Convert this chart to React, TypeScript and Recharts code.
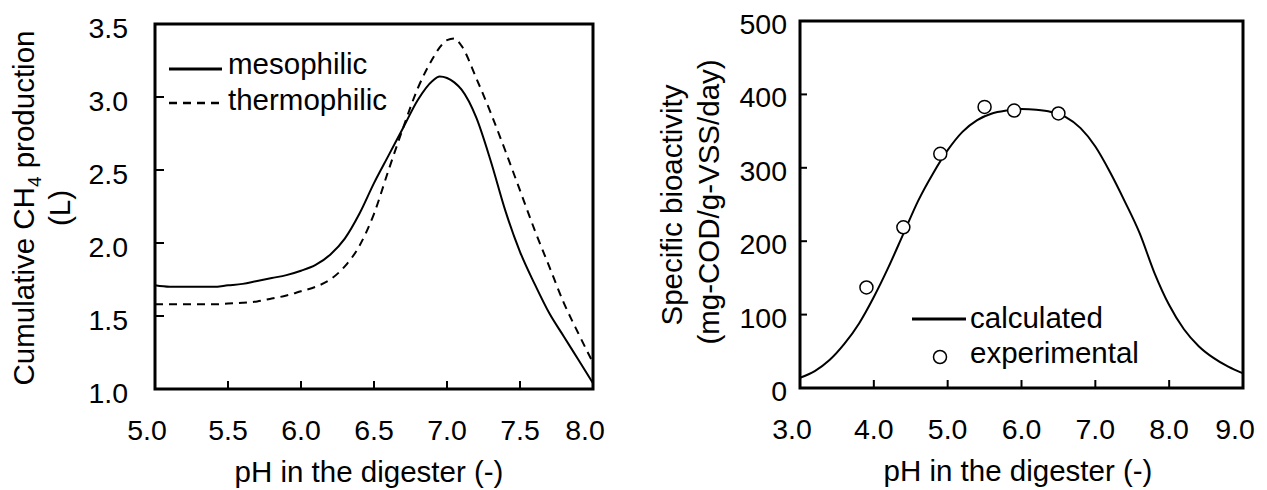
import React from 'react';
import {
    LineChart,
    ComposedChart,
    Line,
    Scatter,
    XAxis,
    YAxis,
    ReferenceArea,
    Legend,
} from 'recharts';

const FONT = '"Liberation Sans", Arial, Helvetica, sans-serif';

// left panel: cumulative CH4 production vs pH
const phLeft = [
    5.0, 5.1, 5.2, 5.3, 5.4, 5.5, 5.6, 5.7, 5.8, 5.9, 6.0, 6.1, 6.2, 6.3, 6.4, 6.5, 6.6,
    6.7, 6.8, 6.9, 6.95, 7.0, 7.05, 7.1, 7.2, 7.3, 7.4, 7.5, 7.6, 7.7, 7.8, 7.9, 8.0,
];
const mesophilic = [
    1.71, 1.7, 1.7, 1.7, 1.7, 1.71, 1.72, 1.74, 1.76, 1.78, 1.81, 1.85, 1.92, 2.03, 2.2, 2.41, 2.6,
    2.79, 2.98, 3.11, 3.14, 3.13, 3.1, 3.05, 2.86, 2.56, 2.22, 1.94, 1.72, 1.52, 1.36, 1.2, 1.04,
];
const thermophilic = [
    1.58, 1.58, 1.58, 1.58, 1.58, 1.585, 1.59, 1.6, 1.62, 1.64, 1.67, 1.7, 1.75, 1.84, 1.98, 2.2, 2.5,
    2.79, 3.06, 3.26, 3.34, 3.39, 3.4, 3.35, 3.13, 2.89, 2.63, 2.36, 2.09, 1.84, 1.59, 1.38, 1.18,
];
const leftXTicks = [5, 5.5, 6, 6.5, 7, 7.5, 8];
const leftYTicks = [1, 1.5, 2, 2.5, 3, 3.5];

// right panel: specific bioactivity vs pH
const phCalc = [
    3.0, 3.2, 3.4, 3.6, 3.8, 4.0, 4.2, 4.4, 4.6, 4.8, 5.0, 5.2, 5.4, 5.6, 5.8, 6.0,
    6.2, 6.4, 6.6, 6.8, 7.0, 7.2, 7.4, 7.6, 7.8, 8.0, 8.2, 8.4, 8.6, 8.8, 9.0,
];
const calculated = [
    14, 23, 38, 60, 88, 124, 165, 210, 255, 292, 324, 349, 365, 374, 378, 380,
    379, 376, 369, 354, 329, 294, 254, 211, 157, 113, 80, 57, 41, 29, 20,
];
const phExp = [3.9, 4.4, 4.9, 5.5, 5.9, 6.5];
const experimental = [137, 219, 319, 383, 378, 374];
const rightXTicks = [3, 4, 5, 6, 7, 8, 9];
const rightYTicks = [0, 100, 200, 300, 400, 500];

const leftData = phLeft.map((ph, i) => ({ ph, meso: mesophilic[i], thermo: thermophilic[i] }));
const calcData = phCalc.map((ph, i) => ({ ph, v: calculated[i] }));
const expData = phExp.map((ph, i) => ({ ph, v: experimental[i] }));

const txt = { fontFamily: FONT, fill: '#000' };

// bottom ticks point inward, end labels sit a bit to the left like the original
const bottomTick = (lo: number, hi: number, digits: number, len: number) => (p: any) => {
    const v = p.payload.value;
    const shift = v === lo || v === hi ? -8 : 0;
    return (
        <g>
            <line x1={p.x} x2={p.x} y1={p.y} y2={p.y - len} stroke="#000" strokeWidth={2} />
            <text x={p.x + shift} y={p.y + 51} textAnchor="middle" fontSize={28.5} style={txt}>
                {v.toFixed(digits)}
            </text>
        </g>
    );
};

const leftTick = (digits: number, len: number, gap: number, dy: number) => (p: any) => {
    const v = p.payload.value;
    return (
        <g>
            <line x1={p.x} x2={p.x + len} y1={p.y} y2={p.y} stroke="#000" strokeWidth={2} />
            <text x={p.x - gap} y={p.y + dy} textAnchor="end" fontSize={28.5} style={txt}>
                {v.toFixed(digits)}
            </text>
        </g>
    );
};

const TITLE = 29.5;

const MethaneChart = () => (
    <LineChart
        width={620}
        height={490}
        data={leftData}
        margin={{ top: 24, right: 27, bottom: 71, left: 95 }}
    >
        <XAxis
            dataKey="ph"
            type="number"
            domain={[5, 8]}
            ticks={leftXTicks}
            interval={0}
            height={30}
            axisLine={false}
            tickLine={false}
            tickSize={0}
            tickMargin={0}
            tick={bottomTick(5, 8, 1, 8)}
            label={() => (
                <text x={369} y={482} textAnchor="middle" fontSize={TITLE} style={txt}>
                    pH in the digester (-)
                </text>
            )}
        />
        <YAxis
            type="number"
            domain={[1, 3.5]}
            ticks={leftYTicks}
            interval={0}
            width={60}
            axisLine={false}
            tickLine={false}
            tickSize={0}
            tickMargin={0}
            tick={leftTick(1, 9, 27, 14)}
            label={() => (
                <g>
                    <text transform="rotate(-90 34 208)" x={34} y={208} textAnchor="middle" fontSize={TITLE} style={txt}>
                        Cumulative CH<tspan fontSize={19} dy={7}>4</tspan>
                        <tspan dy={-7}> production</tspan>
                    </text>
                    <text transform="rotate(-90 70 208)" x={70} y={208} textAnchor="middle" fontSize={TITLE} style={txt}>
                        (L)
                    </text>
                </g>
            )}
        />
        <Line
            type="monotone"
            dataKey="meso"
            stroke="#000"
            strokeWidth={2}
            dot={false}
            isAnimationActive={false}
        />
        <Line
            type="monotone"
            dataKey="thermo"
            stroke="#000"
            strokeWidth={2}
            strokeDasharray="8 6"
            dot={false}
            isAnimationActive={false}
        />
        <ReferenceArea x1={5} x2={8} y1={1} y2={3.5} fill="none" stroke="#000" strokeWidth={3} />
        <Legend
            layout="horizontal"
            verticalAlign="middle"
            align="center"
            wrapperStyle={{ left: 0, top: 0, width: 620, height: 490, pointerEvents: 'none' }}
            content={() => (
                <svg width={620} height={490} style={{ position: 'absolute', left: 0, top: 0 }}>
                    <line x1={169} x2={222} y1={69} y2={69} stroke="#000" strokeWidth={3} />
                    <text x={228} y={74} fontSize={TITLE} style={txt}>mesophilic</text>
                    <line x1={169} x2={222} y1={103} y2={103} stroke="#000" strokeWidth={2.5} strokeDasharray="8 6" />
                    <text x={228} y={110} fontSize={TITLE} style={txt}>thermophilic</text>
                </svg>
            )}
        />
    </LineChart>
);

const BioactivityChart = () => (
    <ComposedChart
        width={627}
        height={490}
        margin={{ top: 21, right: 24, bottom: 72, left: 100 }}
    >
        <XAxis
            dataKey="ph"
            type="number"
            domain={[3, 9]}
            ticks={rightXTicks}
            interval={0}
            height={30}
            axisLine={false}
            tickLine={false}
            tickSize={0}
            tickMargin={0}
            tick={bottomTick(3, 9, 1, 8)}
            label={() => (
                <text x={378} y={481} textAnchor="middle" fontSize={TITLE} style={txt}>
                    pH in the digester (-)
                </text>
            )}
        />
        <YAxis
            type="number"
            domain={[0, 500]}
            ticks={rightYTicks}
            interval={0}
            width={60}
            axisLine={false}
            tickLine={false}
            tickSize={0}
            tickMargin={0}
            tick={leftTick(0, 7, 13, 13)}
            label={() => (
                <g>
                    <text transform="rotate(-90 42 205)" x={42} y={205} textAnchor="middle" fontSize={TITLE} style={txt}>
                        Specific bioactivity
                    </text>
                    <text transform="rotate(-90 79 202)" x={79} y={202} textAnchor="middle" fontSize={TITLE} style={txt}>
                        (mg-COD/g-VSS/day)
                    </text>
                </g>
            )}
        />
        <Line
            data={calcData}
            type="monotone"
            dataKey="v"
            stroke="#000"
            strokeWidth={2}
            dot={false}
            isAnimationActive={false}
        />
        <Scatter
            data={expData}
            dataKey="v"
            isAnimationActive={false}
            shape={(p: any) => (
                <circle cx={p.cx} cy={p.cy} r={6.5} fill="#fff" stroke="#000" strokeWidth={1.5} />
            )}
        />
        <ReferenceArea x1={3} x2={9} y1={0} y2={500} fill="none" stroke="#000" strokeWidth={3} />
        <Legend
            layout="horizontal"
            verticalAlign="middle"
            align="center"
            wrapperStyle={{ left: 0, top: 0, width: 627, height: 490, pointerEvents: 'none' }}
            content={() => (
                <svg width={627} height={490} style={{ position: 'absolute', left: 0, top: 0 }}>
                    <line x1={272} x2={326} y1={319} y2={319} stroke="#000" strokeWidth={3} />
                    <text x={330} y={328} fontSize={TITLE} style={txt}>calculated</text>
                    <circle cx={300} cy={357} r={6.5} fill="#fff" stroke="#000" strokeWidth={1.5} />
                    <text x={330} y={363} fontSize={TITLE} style={txt}>experimental</text>
                </svg>
            )}
        />
    </ComposedChart>
);

export default function App() {
    return (
        <div style={{ position: 'absolute', left: 0, top: 0, width: 1267, height: 490, background: '#fff' }}>
            <div style={{ position: 'absolute', left: 0, top: 0 }}>
                <MethaneChart />
            </div>
            <div style={{ position: 'absolute', left: 640, top: 0 }}>
                <BioactivityChart />
            </div>
        </div>
    );
}
